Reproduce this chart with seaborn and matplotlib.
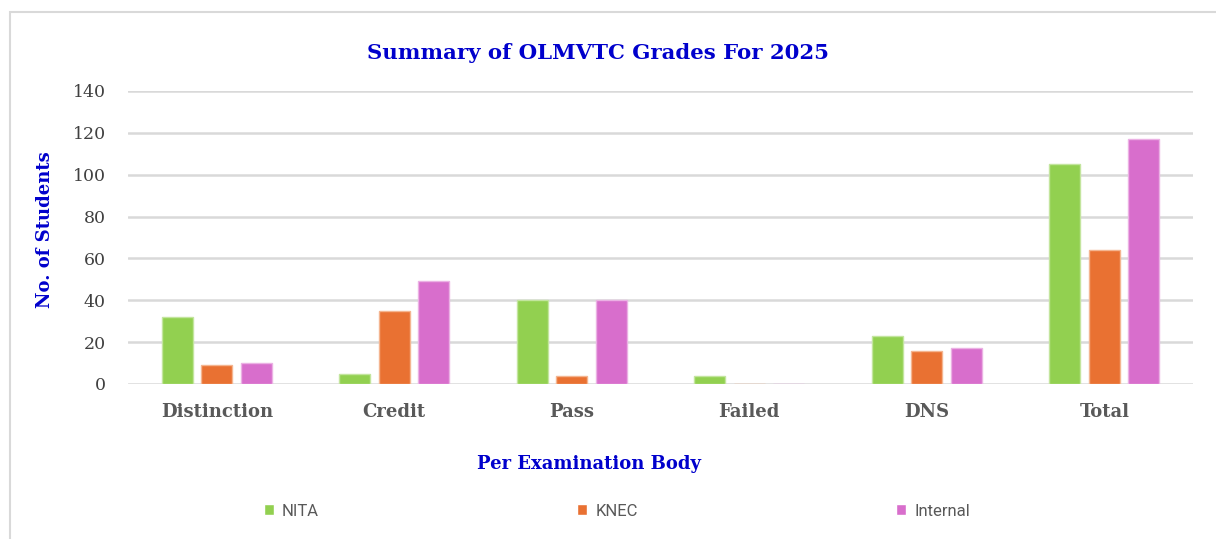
import matplotlib
matplotlib.use("Agg")
import matplotlib.pyplot as plt
import seaborn as sns
import pandas as pd
from matplotlib.patches import Rectangle

categories = ["Distinction", "Credit", "Pass", "Failed", "DNS", "Total"]
series_names = ["NITA", "KNEC", "Internal"]
nita = [32, 5, 40, 4, 23, 105]
knec = [9, 35, 4, 0, 16, 64]
internal = [10, 49, 40, 0, 17, 117]
y_ticks = [0, 20, 40, 60, 80, 100, 120, 140]

colors = ["#92D050", "#E97132", "#D86ECC"]
edge_colors = ["#C3E59E", "#F4B590", "#EBB1E4"]

rows = []
for name, vals in zip(series_names, [nita, knec, internal]):
    for c, v in zip(categories, vals):
        rows.append({"Category": c, "Body": name, "Value": v})
df = pd.DataFrame(rows)

sns.set_theme(style="white")
serif = ["DejaVu Serif"]
fig = plt.figure(figsize=(12.16, 5.39), dpi=100)
ax = fig.add_axes([128/1216, 1-384/539, (1193-128)/1216, (384-91)/539])

sns.barplot(data=df, x="Category", y="Value", hue="Body", order=categories,
            hue_order=series_names, palette=colors, width=0.667, gap=0.22,
            ax=ax, legend=True, saturation=1)

for cont, ec in zip(ax.containers, edge_colors):
    for bar in cont:
        bar.set_edgecolor(ec)
        bar.set_linewidth(1.0)

ax.set_ylim(0, 140)
ax.set_xlim(-0.5, 5.5)
ax.set_yticks(y_ticks)
ax.set_yticklabels([str(t) for t in y_ticks], fontfamily=serif, fontsize=12.5, color="#404040")
ax.set_xticks(range(len(categories)))
ax.set_xticklabels(categories, fontfamily=serif, fontsize=13, fontweight="bold", color="#595959")
ax.tick_params(axis="y", length=0, pad=16)
ax.tick_params(axis="x", length=0, pad=14)
ax.yaxis.grid(True, color="#D9D9D9", linewidth=1.8)
ax.set_axisbelow(True)
for s in ax.spines.values():
    s.set_visible(False)

ax.set_xlabel("")
ax.set_ylabel("")
fig.text(45/1216, 1-230/539, "No. of Students", rotation=90, ha="center", va="center",
         fontfamily=serif, fontsize=13, fontweight="bold", color="#0000CC")
fig.text(589/1216, 1-464/539, "Per Examination Body", ha="center", va="center",
         fontfamily=serif, fontsize=13, fontweight="bold", color="#0000CC")
fig.text(598/1216, 1-53/539, "Summary of OLMVTC Grades For 2025", ha="center", va="center",
         fontfamily=serif, fontsize=15.3, fontweight="bold", color="#0000CC")

handles, labels = ax.get_legend_handles_labels()
ax.get_legend().remove()
leg = fig.legend(handles, labels, loc="center", bbox_to_anchor=(617/1216, 1-511/539),
                 ncol=3, frameon=False, columnspacing=15.5, handlelength=0.6,
                 handleheight=0.6, handletextpad=0.5,
                 prop={"family": "Roboto", "size": 12})
for t in leg.get_texts():
    t.set_color("#595959")

fig.patches.append(Rectangle((10/1216, -0.1), 1.2, 1-12/539+0.1, transform=fig.transFigure,
                             fill=False, edgecolor="#D9D9D9", linewidth=1.5, zorder=0))

fig.savefig("out.png", dpi=100)
